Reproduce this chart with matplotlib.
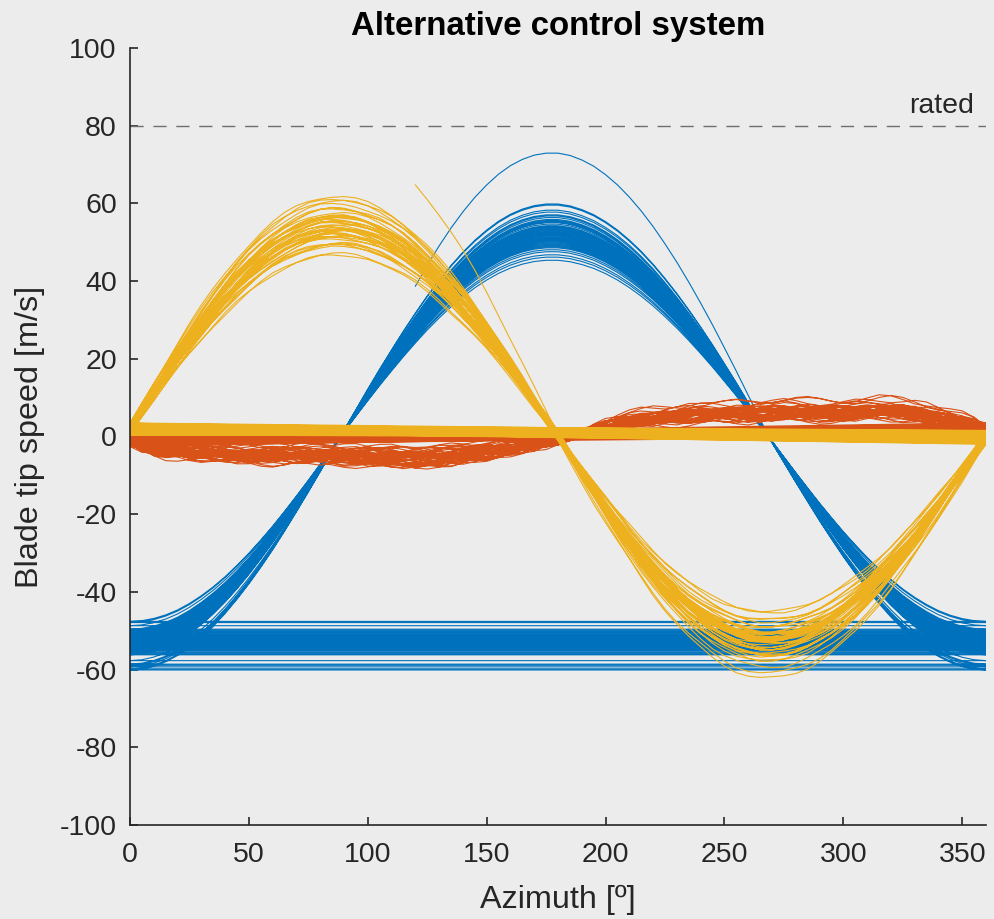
import numpy as np
import matplotlib.pyplot as plt

plt.rcParams['font.family'] = ['Liberation Sans', 'DejaVu Sans']
plt.rcParams['axes.unicode_minus'] = False

# azimuth grid of the logged revolutions [deg]
azimuth = np.arange(0, 361, 5)

# normalised blade tip speed over one revolution (rows of 60 deg)
blue_shape = [-1.000, -0.996, -0.984, -0.965, -0.938, -0.903, -0.861, -0.813, -0.758, -0.697, -0.631, -0.560,
              -0.485, -0.405, -0.322, -0.237, -0.150, -0.062, 0.027, 0.115, 0.203, 0.289, 0.372, 0.453,
              0.530, 0.604, 0.672, 0.735, 0.792, 0.843, 0.887, 0.925, 0.955, 0.977, 0.992, 0.999,
              0.999, 0.991, 0.975, 0.953, 0.923, 0.887, 0.844, 0.795, 0.740, 0.679, 0.614, 0.544,
              0.470, 0.393, 0.312, 0.230, 0.145, 0.060, -0.026, -0.111, -0.196, -0.279, -0.361, -0.439,
              -0.515, -0.586, -0.654, -0.716, -0.773, -0.825, -0.870, -0.909, -0.942, -0.967, -0.985, -0.996,
              -1.000]
yellow_shape = [0.000, 0.090, 0.180, 0.268, 0.353, 0.436, 0.515, 0.591, 0.661, 0.726, 0.785, 0.838,
                0.884, 0.922, 0.953, 0.977, 0.992, 0.999, 0.999, 0.991, 0.975, 0.953, 0.924, 0.888,
                0.845, 0.797, 0.742, 0.682, 0.618, 0.548, 0.475, 0.398, 0.319, 0.237, 0.153, 0.068,
                -0.017, -0.106, -0.193, -0.279, -0.362, -0.443, -0.520, -0.593, -0.662, -0.726, -0.783, -0.835,
                -0.880, -0.919, -0.950, -0.974, -0.990, -0.999, -0.999, -0.993, -0.979, -0.958, -0.930, -0.896,
                -0.854, -0.807, -0.753, -0.695, -0.631, -0.562, -0.490, -0.414, -0.335, -0.253, -0.170, -0.085,
                0.000]
orange_shape = [0.00, -0.28, -0.45, -0.55, -0.60, -0.63, -0.65, -0.68, -0.70, -0.75, -0.78, -0.80,
                -0.80, -0.79, -0.80, -0.81, -0.82, -0.84, -0.86, -0.88, -0.90, -0.93, -0.96, -0.99,
                -1.00, -0.98, -0.95, -0.91, -0.86, -0.80, -0.74, -0.67, -0.60, -0.53, -0.45, -0.34,
                -0.22, -0.07, 0.08, 0.23, 0.38, 0.50, 0.60, 0.67, 0.72, 0.76, 0.80, 0.83,
                0.85, 0.87, 0.88, 0.89, 0.90, 0.93, 0.95, 0.96, 0.95, 0.93, 0.92, 0.91,
                0.90, 0.91, 0.93, 0.95, 0.95, 0.91, 0.85, 0.75, 0.62, 0.51, 0.40, 0.24,
                0.00]
orange_ripple = [0.0, 0.4, 0.7, 0.2, -0.5, -0.8, -0.3, 0.5, 0.9, 0.4, -0.2, -0.7,
                 -0.9, -0.4, 0.3, 0.8, 0.6, -0.1, -0.6, -0.4, 0.2, 0.7, 0.9, 0.3,
                 -0.4, -0.8, -0.6, 0.1, 0.6, 0.8, 0.2, -0.5, -0.9, -0.3, 0.4, 0.7,
                 0.5, -0.2, -0.7, -0.5, 0.3, 0.9, 0.6, -0.1, -0.8, -0.6, 0.0, 0.5,
                 0.8, 0.3, -0.4, -0.9, -0.5, 0.2, 0.7, 0.4, -0.3, -0.7, -0.2, 0.6,
                 0.9, 0.4, -0.3, -0.8, -0.6, 0.1, 0.6, 0.7, 0.0, -0.6, -0.4, 0.2,
                 0.0]

# blade 1 (first entry is the start-up revolution, logged from 120 deg)
blue_peak = [73.0, 55.1, 52.3, 57.8, 50.4, 53.6, 48.9, 55.9, 51.2, 46.8,
             54.3, 59.6, 52.8, 50.1, 56.4, 49.5, 53.1, 47.6, 55.2, 51.7,
             58.3, 53.9, 50.8, 45.4, 54.7, 52.1, 49.2, 56.8, 51.4, 53.3,
             48.1, 55.6, 50.5, 57.1, 52.6, 46.2, 54.1, 51.9, 49.8, 53.7,
             59.9, 50.9, 55.4, 52.4, 48.6]
blue_trough = [-59.8, -53.2, -51.6, -55.4, -47.6, -52.7, -54.1, -50.3, -58.6, -53.8,
               -51.1, -56.2, -52.4, -48.7, -54.6, -50.9, -53.5, -59.3, -52.0, -55.0,
               -51.4, -49.6, -53.9, -57.7, -52.9, -50.6, -54.4, -51.8, -60.1, -53.1,
               -55.7, -49.9, -52.3, -54.9, -47.9, -53.6, -51.3, -56.0, -52.6, -58.9,
               -50.2, -54.2, -53.0, -51.5, -55.3]

# blade 2
orange_amp = [6.5, 7.8, 4.2, 5.6, 3.4, 6.1, 4.9, 8.3, 5.2, 3.9,
              6.8, 4.5, 5.9, 7.2, 4.0, 5.4, 6.3, 3.6, 7.5, 4.7,
              5.8, 6.6, 4.3, 5.1, 8.0, 3.8, 6.0, 4.8, 5.5, 7.0,
              4.1, 6.4, 5.3, 3.5, 6.9, 4.6, 5.7, 7.6, 4.4, 5.0,
              6.2, 3.7, 5.9, 4.9, 6.7]
orange_start = [-0.8, -1.5, 0.2, -1.1, -0.4, -1.9, -0.6, 0.1, -1.3, -0.9,
                -0.2, -1.7, -0.5, -1.0, 0.3, -1.4, -0.7, -1.2, -0.1, -1.6,
                -0.8, -0.3, -1.8, -0.6, -1.1, 0.0, -1.5, -0.9, -0.4, -1.3,
                -0.7, -1.0, 0.2, -1.6, -0.5, -1.2, -0.8, -0.2, -1.4, -0.9,
                -0.6, -1.7, -0.3, -1.1, -0.7]
orange_end = [1.6, 2.4, 0.7, 1.9, 2.8, 1.2, 0.5, 2.1, 1.5, 2.6,
              0.9, 1.8, 2.3, 1.0, 2.9, 1.4, 0.6, 2.0, 1.7, 2.5,
              1.1, 0.8, 2.2, 1.3, 2.7, 1.6, 0.4, 1.9, 2.4, 1.2,
              2.0, 0.7, 1.5, 2.6, 1.0, 1.8, 2.3, 0.9, 1.4, 2.8,
              1.7, 1.1, 2.1, 0.6, 1.6]

# blade 3
yellow_peak = [75.0, 60.8, 52.4, 55.7, 49.3, 53.8, 57.2, 50.6, 46.1, 54.5,
               51.8, 58.9, 48.4, 53.2, 55.9, 50.1, 52.7, 47.5, 56.3, 51.3,
               54.1, 49.8, 57.8, 52.9, 45.6, 53.5, 50.9, 55.1, 48.8, 54.8,
               52.2, 59.6, 50.4, 53.9, 47.1, 56.7, 51.6, 54.3, 49.6, 52.5,
               58.1, 50.7, 53.4, 48.2, 55.4]
yellow_trough = [-63.0, -60.2, -53.1, -50.4, -56.2, -47.8, -54.6, -51.9, -57.5, -49.3,
                 -53.8, -55.9, -46.2, -52.4, -58.6, -50.8, -54.1, -48.7, -53.3, -56.8,
                 -51.2, -45.9, -54.9, -52.6, -49.9, -57.1, -53.6, -50.2, -55.3, -48.1,
                 -52.9, -59.4, -51.5, -54.4, -47.3, -53.0, -56.4, -50.6, -52.1, -55.6,
                 -49.1, -53.9, -51.7, -58.2, -52.3]
yellow_start = [2.1, 0.8, 3.2, 1.5, 2.7, 0.6, 1.9, 3.4, 1.1, 2.4,
                0.9, 2.9, 1.7, 3.1, 0.7, 2.2, 1.3, 2.6, 3.3, 1.0,
                2.0, 1.6, 2.8, 0.5, 1.8, 3.0, 1.2, 2.5, 0.8, 2.3,
                1.4, 3.2, 1.9, 0.6, 2.7, 1.1, 2.1, 3.5, 1.5, 2.4,
                0.9, 1.7, 2.9, 1.3, 2.0]
yellow_end = [0.4, -1.2, 0.9, -0.3, 1.1, -1.6, 0.2, -0.8, 0.7, -0.1,
              1.2, -1.4, 0.5, -0.6, 0.8, -1.0, 0.0, 1.0, -0.5, 0.3,
              -1.7, 0.6, -0.2, 0.9, -0.9, 0.1, 1.1, -1.3, 0.4, -0.4,
              0.7, -1.1, 0.2, 1.2, -0.7, 0.5, -0.1, -1.5, 0.8, 0.0,
              -0.6, 1.0, -1.2, 0.3, -0.3]

first_azimuth = 120


def blade_trace(shape, hi, lo_in, lo_out, start, end, ripple=None):
    shape = np.asarray(shape)
    xs, ys = [], []
    for k in range(len(hi)):
        lo = np.where(azimuth <= 180, lo_in[k], lo_out[k])
        v = np.where(shape >= 0, hi[k] * shape, -lo * shape)
        v = v + start[k] + (end[k] - start[k]) * azimuth / 360
        if ripple is not None:
            v = v + np.roll(ripple, 7 * k)
        a = azimuth
        if k == 0:
            keep = azimuth >= first_azimuth
            a, v = a[keep], v[keep]
        xs.append(a)
        ys.append(v)
    return np.concatenate(xs), np.concatenate(ys)


n = len(blue_peak)
zeros = [0.0] * n
bx, by = blade_trace(blue_shape, blue_peak,
                     [blue_trough[max(k - 1, 0)] for k in range(n)], blue_trough,
                     zeros, zeros)
ox, oy = blade_trace(orange_shape, orange_amp, [-a for a in orange_amp],
                     [-a for a in orange_amp], orange_start, orange_end,
                     np.array(orange_ripple))
yx, yy = blade_trace(yellow_shape, yellow_peak, yellow_trough, yellow_trough,
                     yellow_start, yellow_end, 0.4 * np.array(orange_ripple))

bg = '#ececec'
fig = plt.figure(figsize=(9.94, 9.19), dpi=100, facecolor=bg)
ax = fig.add_axes([0.1308, 0.1023, 0.8612, 0.8455])
ax.set_facecolor(bg)

ax.plot(bx, by, color='#0072BD', lw=0.8)
ax.plot(ox, oy, color='#D95319', lw=0.8)
ax.plot(yx, yy, color='#EDB120', lw=0.8)

ax.plot([0, 360], [80, 80], color='#6e6e6e', lw=1.0, dashes=(9.5, 7))
ax.text(355, 83.3, 'rated', ha='right', va='baseline', fontsize=20.5, color='#262626')

ax.set_xlim(0, 360)
ax.set_ylim(-100, 100)
ax.set_xticks(np.arange(0, 351, 50))
ax.set_yticks(np.arange(-100, 101, 20))
for side in ['top', 'right']:
    ax.spines[side].set_visible(False)
for side in ['left', 'bottom']:
    ax.spines[side].set_color('#262626')
    ax.spines[side].set_linewidth(1.2)
ax.tick_params(direction='in', length=6, width=1.2, color='#262626',
               labelcolor='#262626', labelsize=20.5, pad=9.5)
ax.tick_params(axis='x', pad=12)

ax.set_title('Alternative control system', fontsize=23.8, fontweight='bold', pad=9.4)
ax.set_xlabel('Azimuth [º]', fontsize=23.3, color='#262626', va='center')
ax.xaxis.set_label_coords(0.5, -0.0965)
ax.set_ylabel('Blade tip speed [m/s]', fontsize=23.3, color='#262626', va='center')
ax.yaxis.set_label_coords(-0.1168, 0.5)

fig.savefig('out.png', dpi=100, facecolor=bg)
